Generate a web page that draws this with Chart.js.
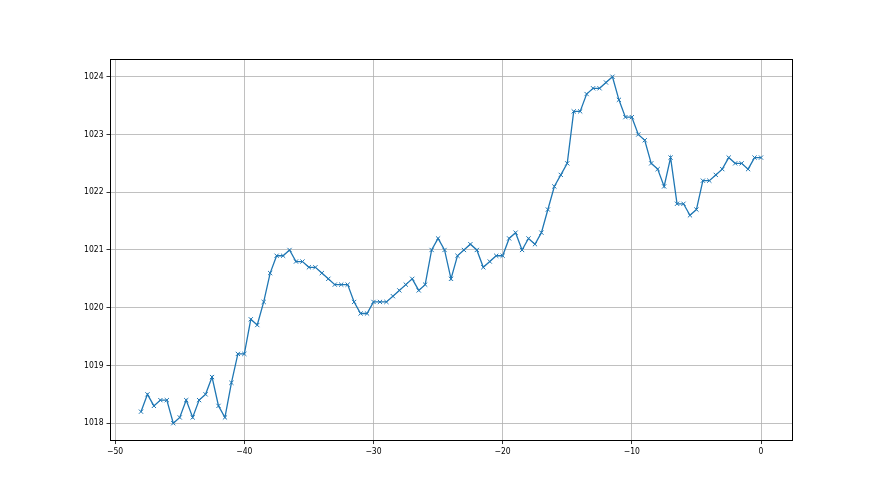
<!DOCTYPE html>
<html>
<head>
<meta charset="utf-8">
<script src="https://cdn.jsdelivr.net/npm/chart.js@4"></script>
<style>
    html, body { margin: 0; padding: 0; background: #fff; }
    #wrap { width: 880px; height: 495px; }
</style>
</head>
<body>
<div id="wrap"><canvas id="myChart" width="880" height="495"></canvas></div>
<script>
"use strict";

// hours relative to now
const hours = [
    -48, -47.5, -47, -46.5, -46, -45.5, -45, -44.5, -44, -43.5,
    -43, -42.5, -42, -41.5, -41, -40.5, -40, -39.5, -39, -38.5,
    -38, -37.5, -37, -36.5, -36, -35.5, -35, -34.5, -34, -33.5,
    -33, -32.5, -32, -31.5, -31, -30.5, -30, -29.5, -29, -28.5,
    -28, -27.5, -27, -26.5, -26, -25.5, -25, -24.5, -24, -23.5,
    -23, -22.5, -22, -21.5, -21, -20.5, -20, -19.5, -19, -18.5,
    -18, -17.5, -17, -16.5, -16, -15.5, -15, -14.5, -14, -13.5,
    -13, -12.5, -12, -11.5, -11, -10.5, -10, -9.5, -9, -8.5,
    -8, -7.5, -7, -6.5, -6, -5.5, -5, -4.5, -4, -3.5,
    -3, -2.5, -2, -1.5, -1, -0.5, 0
];

const pressure = [
    1018.2, 1018.5, 1018.3, 1018.4, 1018.4, 1018.0, 1018.1, 1018.4, 1018.1, 1018.4,
    1018.5, 1018.8, 1018.3, 1018.1, 1018.7, 1019.2, 1019.2, 1019.8, 1019.7, 1020.1,
    1020.6, 1020.9, 1020.9, 1021.0, 1020.8, 1020.8, 1020.7, 1020.7, 1020.6, 1020.5,
    1020.4, 1020.4, 1020.4, 1020.1, 1019.9, 1019.9, 1020.1, 1020.1, 1020.1, 1020.2,
    1020.3, 1020.4, 1020.5, 1020.3, 1020.4, 1021.0, 1021.2, 1021.0, 1020.5, 1020.9,
    1021.0, 1021.1, 1021.0, 1020.7, 1020.8, 1020.9, 1020.9, 1021.2, 1021.3, 1021.0,
    1021.2, 1021.1, 1021.3, 1021.7, 1022.1, 1022.3, 1022.5, 1023.4, 1023.4, 1023.7,
    1023.8, 1023.8, 1023.9, 1024.0, 1023.6, 1023.3, 1023.3, 1023.0, 1022.9, 1022.5,
    1022.4, 1022.1, 1022.6, 1021.8, 1021.8, 1021.6, 1021.7, 1022.2, 1022.2, 1022.3,
    1022.4, 1022.6, 1022.5, 1022.5, 1022.4, 1022.6, 1022.6
];

const xTicks = [-50, -40, -30, -20, -10, 0];
const yTicks = [1018, 1019, 1020, 1021, 1022, 1023, 1024];

const points = [];
for (let i = 0; i < hours.length; i++) {
    points.push({ x: hours[i], y: pressure[i] });
}

// matplotlib-like frame on all four sides
const frame = {
    id: 'frame',
    afterDraw(chart) {
        const a = chart.chartArea;
        const c = chart.ctx;
        c.save();
        c.strokeStyle = '#000';
        c.lineWidth = 1;
        c.strokeRect(Math.round(a.left) + 0.5, Math.round(a.top) + 0.5,
            Math.round(a.right - a.left), Math.round(a.bottom - a.top));
        c.restore();
    }
};

function fmt(v) {
    return v < 0 ? '\u2212' + Math.abs(v) : String(v);
}

const tickFont = { family: '"DejaVu Sans Condensed", "DejaVu Sans"', size: 8.5 };

const ctx = document.getElementById('myChart');
const myChart = new Chart(ctx, {
    type: 'line',
    data: {
        datasets: [{
            data: points,
            borderColor: '#1f77b4',
            backgroundColor: '#1f77b4',
            borderWidth: 1.3,
            pointStyle: 'crossRot',
            pointRadius: 3,
            pointBorderWidth: 1,
            pointBorderColor: '#1f77b4',
            tension: 0,
            fill: false
        }]
    },
    options: {
        responsive: false,
        animation: false,
        layout: { padding: { top: 59.4, right: 88, left: 0, bottom: 0 } },
        plugins: {
            legend: { display: false },
            tooltip: { enabled: false }
        },
        scales: {
            x: {
                type: 'linear',
                min: -50.4,
                max: 2.4,
                afterBuildTicks: function (scale) {
                    scale.ticks = xTicks.map(v => ({ value: v }));
                },
                afterFit: function (scale) {
                    scale.height = 54.45;
                },
                grid: {
                    color: '#b0b0b0',
                    lineWidth: 0.8,
                    tickLength: 3.5,
                    tickColor: '#000',
                    tickWidth: 0.8
                },
                border: { display: false },
                ticks: {
                    color: '#000',
                    padding: 3,
                    maxRotation: 0,
                    font: tickFont,
                    callback: fmt
                }
            },
            y: {
                type: 'linear',
                min: 1017.7,
                max: 1024.3,
                afterBuildTicks: function (scale) {
                    scale.ticks = yTicks.map(v => ({ value: v }));
                },
                afterFit: function (scale) {
                    scale.width = 110;
                },
                grid: {
                    color: '#b0b0b0',
                    lineWidth: 0.8,
                    tickLength: 3.5,
                    tickColor: '#000',
                    tickWidth: 0.8
                },
                border: { display: false },
                ticks: {
                    color: '#000',
                    padding: 3,
                    font: tickFont,
                    callback: fmt
                }
            }
        }
    },
    plugins: [frame]
});
</script>
</body>
</html>
